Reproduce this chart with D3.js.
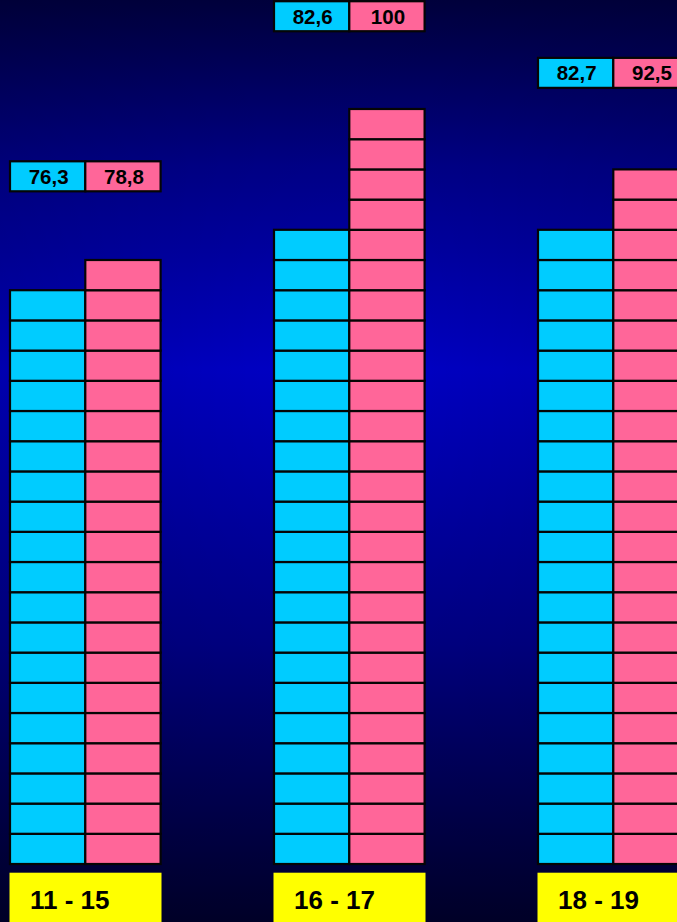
<!DOCTYPE html>
<html>
<head>
<meta charset="utf-8">
<script src="https://cdn.jsdelivr.net/npm/d3@7"></script>
<style>
html,body{margin:0;padding:0;background:#000040;overflow:hidden;}
svg{display:block;}
</style>
</head>
<body>
<svg id="chart" width="677" height="922"></svg>
<script>
// ---- data ----
const categories = ["11 - 15", "16 - 17", "18 - 19"];
const seriesNames = ["A", "B"];
const cyanValues = [76.3, 82.6, 82.7];
const pinkValues = [78.8, 100, 92.5];
const valueLabelsCyan = ["76,3", "82,6", "82,7"];
const valueLabelsPink = ["78,8", "100", "92,5"];
const unitPerBlock = 4;

// ---- layout ----
const W = 677, H = 922;
const colors = ["#00CCFF", "#FF6699"];
const svg = d3.select("#chart");

const defs = svg.append("defs");
const bg = defs.append("linearGradient").attr("id", "bg")
  .attr("x1", 0).attr("y1", 0).attr("x2", 0).attr("y2", 1);
bg.append("stop").attr("offset", "0%").attr("stop-color", "#000042");
bg.append("stop").attr("offset", "18%").attr("stop-color", "#00008C");
bg.append("stop").attr("offset", "40%").attr("stop-color", "#0000C6");
bg.append("stop").attr("offset", "70%").attr("stop-color", "#000088");
bg.append("stop").attr("offset", "100%").attr("stop-color", "#00002E");
svg.append("rect").attr("width", W).attr("height", H).attr("fill", "url(#bg)");

const rad = defs.append("radialGradient").attr("id", "rad")
  .attr("cx", 0.5).attr("cy", 0.4).attr("r", 0.75);
rad.append("stop").attr("offset", "0%").attr("stop-color", "#000000").attr("stop-opacity", 0);
rad.append("stop").attr("offset", "100%").attr("stop-color", "#000000").attr("stop-opacity", 0.18);
svg.append("rect").attr("width", W).attr("height", H).attr("fill", "url(#rad)");

const x = d3.scalePoint().domain(categories).range([10, 538]);
const colW = 75.3;
const y = d3.scaleLinear().domain([0, 100]).range([864, 109]);

const groups = categories.map((c, i) => ({
  cat: c,
  vals: [cyanValues[i], pinkValues[i]],
  labels: [valueLabelsCyan[i], valueLabelsPink[i]]
}));

const g = svg.selectAll("g.grp").data(groups).join("g")
  .attr("class", "grp")
  .attr("transform", d => `translate(${x(d.cat)},0)`);

// blocks
g.each(function(d) {
  const sel = d3.select(this);
  d.vals.forEach((v, s) => {
    const n = Math.round(v / unitPerBlock);
    const blocks = d3.range(n);
    sel.selectAll(`rect.b${s}`).data(blocks).join("rect")
      .attr("class", `b${s}`)
      .attr("x", s * colW)
      .attr("y", k => y((k + 1) * unitPerBlock))
      .attr("width", colW)
      .attr("height", k => y(k * unitPerBlock) - y((k + 1) * unitPerBlock))
      .attr("fill", colors[s])
      .attr("stroke", "#050505")
      .attr("stroke-width", 2.2);
  });
});

// value label boxes
g.each(function(d) {
  const sel = d3.select(this);
  const bottom = y(d3.max(d.vals) + 10.3);
  const boxH = 30;
  d.labels.forEach((t, s) => {
    sel.append("rect")
      .attr("x", s * colW).attr("y", bottom - boxH)
      .attr("width", colW).attr("height", boxH)
      .attr("fill", colors[s]).attr("stroke", "#050505").attr("stroke-width", 2.2);
    sel.append("text")
      .attr("x", s * colW + colW / 2 + 1)
      .attr("y", bottom - boxH / 2 + 7.5)
      .attr("text-anchor", "middle")
      .attr("font-family", "Liberation Sans, Arial, sans-serif")
      .attr("font-weight", "bold")
      .attr("font-size", 20.5)
      .attr("fill", "#000")
      .text(t);
  });
});

// category boxes
g.append("rect")
  .attr("x", -0.5).attr("y", 872.7)
  .attr("width", 152).attr("height", 60)
  .attr("fill", "#FFFF00");
g.append("text")
  .attr("x", 20).attr("y", 909)
  .attr("font-family", "Liberation Sans, Arial, sans-serif")
  .attr("font-weight", "bold")
  .attr("font-size", 26)
  .attr("fill", "#000")
  .text(d => d.cat);
</script>
</body>
</html>
